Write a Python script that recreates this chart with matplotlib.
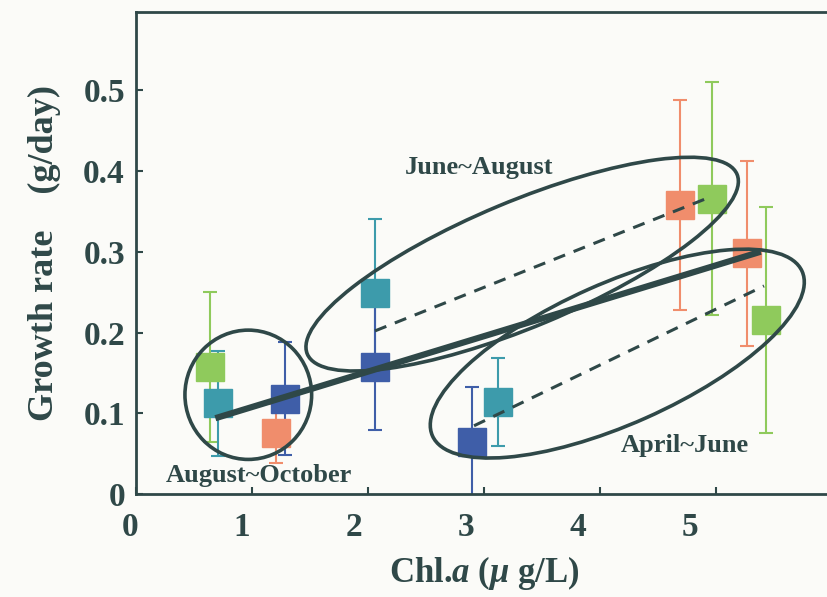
import numpy as np
import matplotlib
matplotlib.use("Agg")
import matplotlib.pyplot as plt
from matplotlib.patches import Ellipse
from matplotlib.transforms import ScaledTranslation

plt.rcParams['font.family'] = ['Liberation Serif', 'DejaVu Serif']
plt.rcParams['font.weight'] = 'bold'
plt.rcParams['axes.labelweight'] = 'bold'
plt.rcParams['mathtext.fontset'] = 'custom'
plt.rcParams['mathtext.it'] = 'Liberation Serif:italic:bold'
plt.rcParams['mathtext.rm'] = 'Liberation Serif:bold'

# growth rate vs chl.a, one series per colour
green_x = [0.638, 4.963, 5.431]
green_y = [0.1575, 0.366, 0.2153]
green_err = [0.093, 0.144, 0.140]

teal_x = [0.704, 2.06, 3.121]
teal_y = [0.1123, 0.249, 0.114]
teal_err = [0.065, 0.091, 0.054]

orange_x = [1.207, 4.69, 5.265]
orange_y = [0.075, 0.3585, 0.298]
orange_err = [0.037, 0.130, 0.115]

blue_x = [1.284, 2.06, 2.894]
blue_y = [0.118, 0.1575, 0.065]
blue_err = [0.070, 0.078, 0.068]

# trend lines
all_x = [0.71, 5.36]
all_y = [0.095, 0.299]
junaug_x = [2.06, 4.97]
junaug_y = [0.202, 0.369]
aprjun_x = [2.914, 5.414]
aprjun_y = [0.0845, 0.2577]

# season groupings: label, label position, ellipse centre
season_names = ['August~October', 'June~August', 'April~June']
season_label_x = [1.06, 2.957, 4.73]
season_label_y = [0.0223, 0.405, 0.0606]
ring_cx = [0.968, 3.329, 4.149]
ring_cy = [0.1229, 0.2847, 0.1739]
ring_w = [126.7, 465.8, 404.6]   # pixels
ring_h = [129.3, 125.4, 140.8]
ring_ang = [0, 22.7, 24.0]

x_ticks = [0, 1, 2, 3, 4, 5]
y_ticks = [0, 0.1, 0.2, 0.3, 0.4, 0.5]
y_labels = ['0', '0.1', '0.2', '0.3', '0.4', '0.5']

ink = '#2f4848'
bg = '#fbfbf8'

fig = plt.figure(figsize=(8.27, 5.97), dpi=100, facecolor=bg)
ax = fig.add_axes([136/827, 103/597, 696/827, 482/597], facecolor=bg)
ax.set_xlim(0, 6)
ax.set_ylim(0, 0.597)

series = [
    (green_x, green_y, green_err, '#8fca5c'),
    (teal_x, teal_y, teal_err, '#3d9bab'),
    (orange_x, orange_y, orange_err, '#f08d6c'),
    (blue_x, blue_y, blue_err, '#3f5ea8'),
]
for xs, ys, es, c in series:
    ax.errorbar(xs, ys, yerr=es, fmt='s', ms=19.5, color=c, mec=c,
                ecolor=c, elinewidth=1.5, capsize=5, capthick=1.5, zorder=2)

ax.plot(all_x, all_y, '-', color=ink, lw=4.5, zorder=4)
ax.plot(junaug_x, junaug_y, '--', color=ink, lw=2.2, dashes=(4, 3), zorder=4)
ax.plot(aprjun_x, aprjun_y, '--', color=ink, lw=2.2, dashes=(4, 3), zorder=4)

for i in range(len(ring_cx)):
    tr = fig.dpi_scale_trans + ScaledTranslation(ring_cx[i], ring_cy[i], ax.transData)
    e = Ellipse((0, 0), ring_w[i] / 100, ring_h[i] / 100, angle=ring_ang[i],
                transform=tr, fill=False, ec=ink, lw=2.6, zorder=5)
    ax.add_patch(e)
    ax.text(season_label_x[i], season_label_y[i], season_names[i], color=ink,
            fontsize=19, ha='center', va='center', zorder=6)

ax.set_xticks(x_ticks)
ax.set_yticks(y_ticks)
ax.set_yticklabels(y_labels)
ax.tick_params(direction='in', length=5, width=1.5, colors=ink, labelsize=24,
               labelcolor=ink)
ax.tick_params(axis='y', pad=8)
ax.tick_params(axis='x', pad=13)
for sp in ax.spines.values():
    sp.set_color(ink)
    sp.set_linewidth(2)

# the printed tick labels drift left of their tick marks
for k, lab in enumerate(ax.get_xticklabels()):
    lab.set_transform(lab.get_transform() +
                      ScaledTranslation(-(6 + 4 * k) / 100, 0, fig.dpi_scale_trans))

ax.set_xlabel(r'Chl.$\it{a}$ ($\mu$ g/L)', fontsize=25, color=ink, labelpad=8)
ax.set_ylabel('Growth rate    (g/day)', fontsize=26, color=ink, labelpad=16)

fig.savefig('out.png', dpi=100, facecolor=bg)
